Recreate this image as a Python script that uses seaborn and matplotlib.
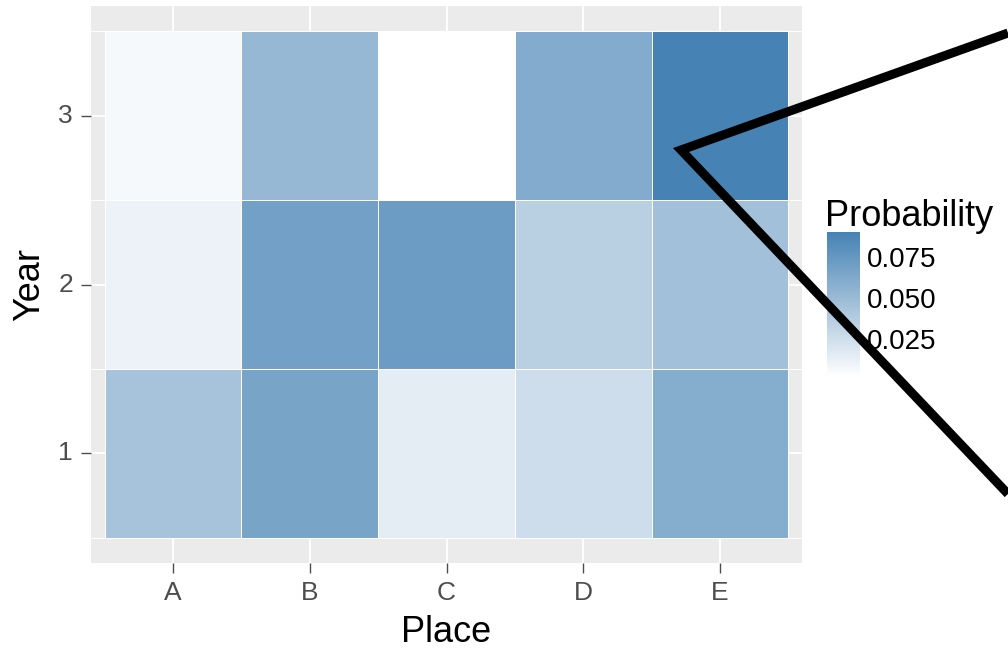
import numpy as np
import pandas as pd
import matplotlib
matplotlib.use('Agg')
import matplotlib.pyplot as plt
import seaborn as sns
from matplotlib.colors import LinearSegmentedColormap
from matplotlib.lines import Line2D

# data
places = ['A', 'B', 'C', 'D', 'E']
years = [3, 2, 1]
prob_year3 = [0.0064, 0.052, 0.002, 0.061, 0.090]
prob_year2 = [0.011, 0.069, 0.072, 0.035, 0.046]
prob_year1 = [0.044, 0.066, 0.015, 0.026, 0.060]
legend_ticks = [0.025, 0.050, 0.075]

df = pd.DataFrame([prob_year3, prob_year2, prob_year1], index=years, columns=places)

sns.set_theme(style='white')
plt.rcParams['font.family'] = ['Liberation Sans', 'DejaVu Sans']

cmap = LinearSegmentedColormap.from_list('wb', ['#FFFFFF', '#4682B4'])

fig = plt.figure(figsize=(10.08, 6.48), dpi=100, facecolor='white')
ax = fig.add_axes([91 / 1008, 1 - 563 / 648, 711 / 1008, 557 / 648])
cax = fig.add_axes([827 / 1008, 1 - 377 / 648, 33 / 1008, 145 / 648])

sns.heatmap(df, ax=ax, cbar_ax=cax, cmap=cmap, linewidths=0.6, linecolor='white',
            cbar_kws={'ticks': legend_ticks})

# ggplot-like panel
ax.set_facecolor('#EBEBEB')
ax.set_xlim(-0.1, 5.1)
ax.set_ylim(3.148, -0.148)
ax.set_axisbelow(True)
ax.set_yticks(np.arange(0, 4), minor=True)
ax.grid(True, which='major', color='white', linewidth=1.3)
ax.grid(True, which='minor', axis='y', color='white', linewidth=0.7)
for s in ax.spines.values():
    s.set_visible(False)

ax.tick_params(axis='both', which='major', length=7, width=1, color='#4D4D4D',
               labelsize=19, labelcolor='#4D4D4D', pad=6, bottom=True, left=True)
ax.tick_params(which='minor', length=0)
ax.set_yticklabels([str(y) for y in years], rotation=0)
ax.set_xticklabels(places, rotation=0)
ax.set_xlabel('Place', fontsize=26, color='black', labelpad=7)
ax.set_ylabel('Year', fontsize=26, color='black', labelpad=8)

# legend colorbar
cbar = ax.collections[0].colorbar
cbar.outline.set_visible(False)
cbar.ax.tick_params(direction='in', length=6, width=1, color='white', left=True, right=True,
                    labelsize=20, labelcolor='black', pad=5)
cbar.ax.set_yticklabels([f'{t:.3f}' for t in legend_ticks])
fig.text(825 / 1008, 1 - 226 / 648, 'Probability', fontsize=26, color='black', ha='left', va='baseline')

# black pointer drawn over the figure
fig.add_artist(Line2D([1008 / 1008, 681 / 1008, 1008 / 1008],
                      [1 - 33 / 648, 1 - 150 / 648, 1 - 494 / 648],
                      transform=fig.transFigure, color='black', linewidth=6.5,
                      solid_joinstyle='miter', solid_capstyle='butt'))

plt.savefig('out.png', dpi=100, facecolor='white')
plt.close()
